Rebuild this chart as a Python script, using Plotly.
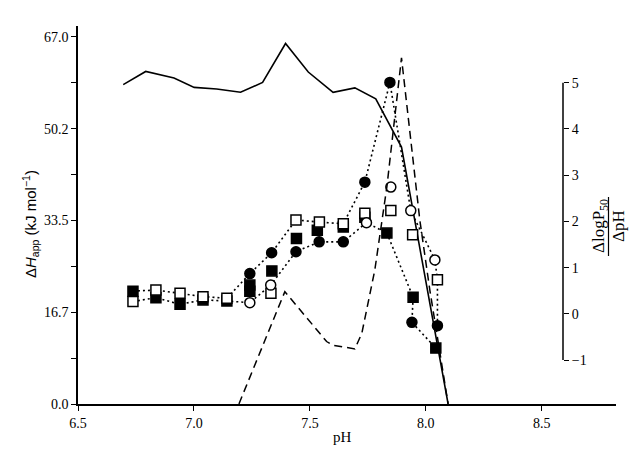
import plotly.graph_objects as go

# ---------------- data ----------------
# solid line (left axis)
ph_solid = [6.695, 6.792, 6.914, 7.001, 7.098, 7.201, 7.296, 7.395, 7.493, 7.600, 7.694, 7.784, 7.895, 8.096]
dh_solid = [58.3, 60.7, 59.5, 57.8, 57.5, 56.9, 58.7, 65.8, 60.6, 56.9, 57.7, 55.7, 46.9, 0.0]

# dashed line (right axis, dlogP50/dpH)
ph_dash = [7.194, 7.392, 7.572, 7.600, 7.694, 7.724, 7.780, 7.832, 7.895, 7.974, 8.017, 8.096]
dlogp_dash = [-1.95, 0.48, -0.60, -0.68, -0.76, -0.42, 0.95, 2.75, 5.54, 2.03, 0.52, -1.95]

# dotted path A (upper at low pH)
ph_a = [6.737, 6.836, 6.940, 7.039, 7.142, 7.241, 7.335, 7.440, 7.541, 7.644, 7.737, 7.845, 7.935, 8.039, 8.050, 8.050]
dh_a = [20.6, 20.8, 20.2, 19.6, 19.3, 23.8, 27.6, 33.6, 33.2, 32.9, 40.5, 58.7, 35.3, 26.3, 22.7, 14.3]
sym_a = ["FS", "OS", "OS", "OS", "OS", "FC", "FC", "OS", "OS", "OS", "FC", "FC", "OC", "OC", "OS", "FC"]

# dotted path B (lower at low pH)
ph_b = [6.737, 6.836, 6.940, 7.039, 7.142, 7.241, 7.331, 7.440, 7.540, 7.644, 7.744, 7.832, 7.945, 7.940, 8.043]
dh_b = [18.7, 19.4, 18.2, 19.0, 18.8, 18.5, 21.7, 27.8, 29.6, 29.6, 33.1, 31.2, 19.5, 14.9, 10.2]
sym_b = ["OS", "FS", "FS", "FS", "FS", "OC", "OC", "FC", "FC", "FC", "OC", "FS", "FS", "FC", "FS"]

# extra (unconnected) markers
ph_fs = [7.241, 7.241, 7.336, 7.442, 7.532, 7.644, 7.737]
dh_fs = [21.7, 20.6, 24.3, 30.2, 31.7, 32.3, 34.1]
ph_os = [7.332, 7.737, 7.849, 7.943]
dh_os = [20.2, 34.8, 35.3, 30.9]
ph_oc = [7.849]
dh_oc = [39.6]

x_ticks = [6.5, 7.0, 7.5, 8.0, 8.5]
x_ticktext = ["6.5", "7.0", "7.5", "8.0", "8.5"]
y_ticks = [0.0, 16.7, 33.5, 50.2, 67.0]
y_ticktext = ["0.0", "16.7", "33.5", "50.2", "67.0"]
y_minor = [8.35, 25.1, 41.85, 58.6]
y2_ticks = [-1, 0, 1, 2, 3, 4, 5]

# ---------------- styling helpers ----------------
SYM = {"FS": ("square", "black"), "OS": ("square", "white"),
       "FC": ("circle", "black"), "OC": ("circle", "white")}
SERIF = "Liberation Serif"

fig = go.Figure()

fig.add_trace(go.Scatter(x=ph_solid, y=dh_solid, mode="lines",
                         line=dict(color="black", width=1.6), showlegend=False))
fig.add_trace(go.Scatter(x=ph_dash, y=dlogp_dash, mode="lines", yaxis="y2",
                         line=dict(color="black", width=1.5, dash="8px,5px"), showlegend=False))

for xs, ys in [(ph_a, dh_a), (ph_b, dh_b)]:
    fig.add_trace(go.Scatter(x=xs, y=ys, mode="lines",
                             line=dict(color="black", width=1.6, dash="2px,3px"), showlegend=False))

def add_markers(xs, ys, syms):
    fig.add_trace(go.Scatter(
        x=xs, y=ys, mode="markers", showlegend=False,
        marker=dict(symbol=[SYM[s][0] for s in syms], color=[SYM[s][1] for s in syms],
                    size=10, line=dict(color="black", width=1.5))))

add_markers(ph_fs, dh_fs, ["FS"] * len(ph_fs))
add_markers(ph_os, dh_os, ["OS"] * len(ph_os))
add_markers(ph_oc, dh_oc, ["OC"] * len(ph_oc))
add_markers(ph_b, dh_b, sym_b)
add_markers(ph_a, dh_a, sym_a)

L, R, T, B = 78, 23, 26, 50
W, H = 639, 454
pw, ph = W - L - R, H - T - B
y2_pos = (563 - L) / pw

def px(xp):
    return (xp - L) / pw

def py(yp):
    return (H - B - yp) / ph

fig.update_layout(
    width=W, height=H, margin=dict(l=L, r=R, t=T, b=B),
    paper_bgcolor="white", plot_bgcolor="white",
    font=dict(family=SERIF, size=14, color="black"),
    xaxis=dict(range=[6.5, 8.82], tickvals=x_ticks, ticktext=x_ticktext,
               ticks="outside", ticklen=5, tickwidth=1.3, tickcolor="black",
               showline=True, linecolor="black", linewidth=1.5,
               showgrid=False, zeroline=False),
    yaxis=dict(range=[0, 69], tickvals=y_ticks, ticktext=y_ticktext,
               ticks="outside", ticklen=5, tickwidth=1.3, tickcolor="black",
               minor=dict(tickvals=y_minor, ticks="outside", ticklen=5, tickwidth=1.3, tickcolor="black"),
               showline=True, linecolor="black", linewidth=1.5,
               showgrid=False, zeroline=False),
    yaxis2=dict(range=[-1.952, 6.229], overlaying="y", anchor="free", position=y2_pos,
                side="right", tickvals=y2_ticks,
                ticks="outside", ticklen=5, tickwidth=1.3, tickcolor="black",
                showline=False, showgrid=False, zeroline=False),
)

# right axis line, only between -1 and 5
fig.add_shape(type="line", xref="paper", yref="y2", x0=y2_pos, x1=y2_pos, y0=-1, y1=5,
              line=dict(color="black", width=1.5))

# x axis title
fig.add_annotation(text="pH", xref="paper", yref="paper", x=px(342), y=py(437),
                   xanchor="center", yanchor="middle", showarrow=False,
                   font=dict(family=SERIF, size=15))

# left axis title
fig.add_annotation(text="Δ<i>H</i><sub>app</sub> (kJ mol<sup>−1</sup>)", xref="paper", yref="paper",
                   x=px(30), y=py(224), xanchor="center", yanchor="middle",
                   textangle=-90, showarrow=False,
                   font=dict(family="Liberation Sans", size=15))

# right axis title (fraction)
fig.add_annotation(text="ΔlogP<sub>50</sub>", xref="paper", yref="paper",
                   x=px(600), y=py(226), xanchor="center", yanchor="middle",
                   textangle=-90, showarrow=False,
                   font=dict(family=SERIF, size=17))
fig.add_annotation(text="ΔpH", xref="paper", yref="paper",
                   x=px(618), y=py(226), xanchor="center", yanchor="middle",
                   textangle=-90, showarrow=False,
                   font=dict(family=SERIF, size=17))
fig.add_shape(type="line", xref="paper", yref="paper", x0=px(608.5), x1=px(608.5),
              y0=py(256), y1=py(197), line=dict(color="black", width=1.2))

fig.write_html("out.html")
